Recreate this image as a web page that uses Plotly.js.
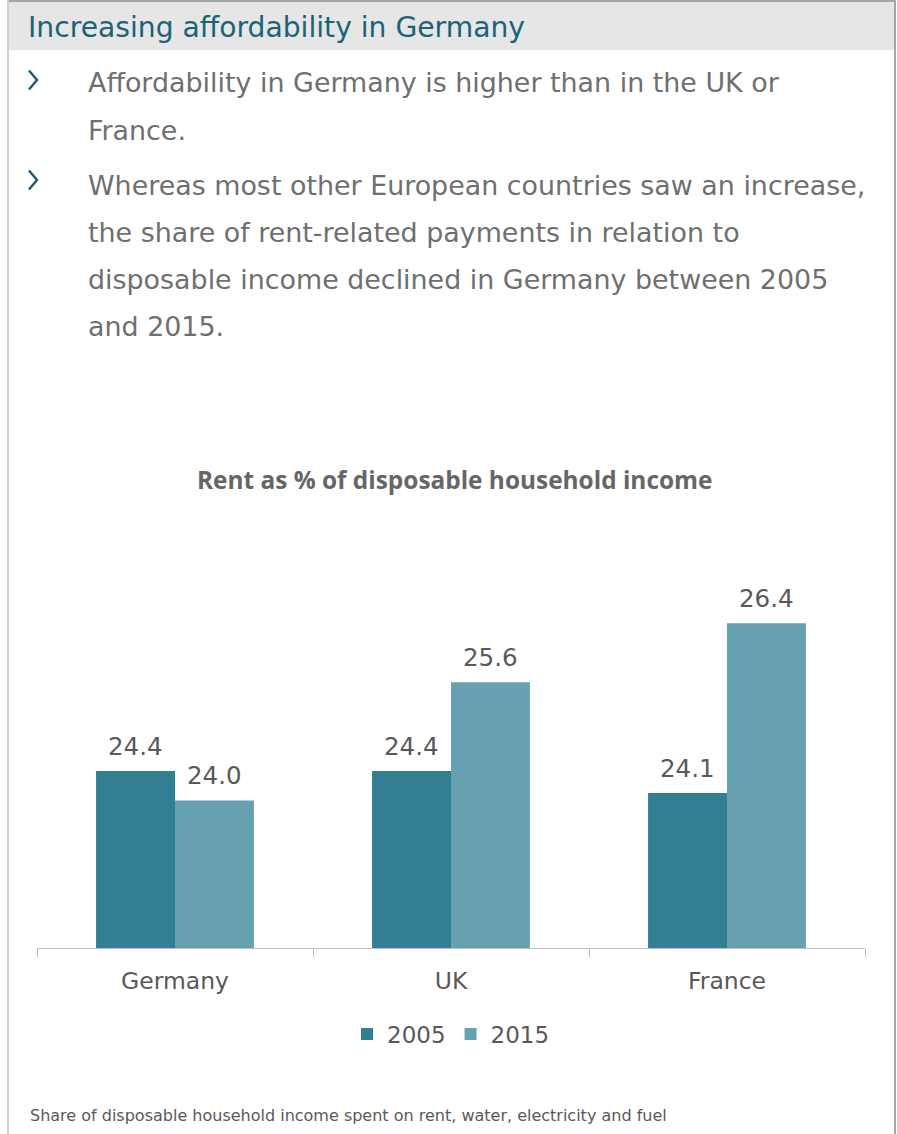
<!DOCTYPE html>
<html>
<head>
<meta charset="utf-8">
<script src="https://cdn.plot.ly/plotly-3.0.1.min.js"></script>
<style>html,body{margin:0;padding:0;background:#fff;}#chart{width:897px;height:1134px;}</style>
</head>
<body>
<div id="chart"></div>
<script>
var categories = ["Germany", "UK", "France"];
var seriesNames = ["2005", "2015"];
var values2005 = [24.4, 24.4, 24.1];
var values2015 = [24.0, 25.6, 26.4];
var headerTitle = "Increasing affordability in Germany";
var bullet1 = ["Affordability in Germany is higher than in the UK or", "France."];
var bullet2 = ["Whereas most other European countries saw an increase,", "the share of rent-related payments in relation to", "disposable income declined in Germany between 2005", "and 2015."];
var chartTitle = "Rent as % of disposable household income";
var footnote = "Share of disposable household income spent on rent, water, electricity and fuel";

var W = 897, H = 1134;
var L = 37, R = 865, T = 579, B = 948;
function px(x){ return (x - L) / (R - L); }
function py(y){ return (B - y) / (B - T); }

var c2005 = "#327f93", c2015 = "#66a0b1";
var grey = "#595959", titleGrey = "#666666", textGrey = "#6f6f6f", teal = "#1a6477", chev = "#1a5a75";

var traces = [
  {type:"bar", name:seriesNames[0], x:categories, y:values2005, marker:{color:c2005}, hoverinfo:"none"},
  {type:"bar", name:seriesNames[1], x:categories, y:values2015, marker:{color:c2015}, hoverinfo:"none"}
];

var ann = [];
function txt(x, y, t, size, color, opts){
  var a = {xref:"paper", yref:"paper", x:px(x), y:py(y), text:t, showarrow:false,
    xanchor:"left", yanchor:"middle", font:{family:"DejaVu Sans", size:size, color:color}};
  if (opts) for (var k in opts) a[k] = opts[k];
  ann.push(a);
}
txt(26, 27, headerTitle, 28.2, teal);
var lh = 47.3;
bullet1.forEach(function(s, i){ txt(86, 83 + i*lh, s, 26.9, textGrey); });
bullet2.forEach(function(s, i){ txt(86, 185 + i*lh, s, 26.9, textGrey); });
txt(454, 479, "<b>" + chartTitle + "</b>", 24.4, titleGrey, {xanchor:"center", font:{family:"Open Sans", size:24.4, color:titleGrey}});
txt(28, 1115, footnote, 16, grey);

var allSeries = [values2005, values2015];
allSeries.forEach(function(vals, k){
  vals.forEach(function(v, j){
    ann.push({xref:"x", yref:"y", x:categories[j], y:v, text:v.toFixed(1), showarrow:false,
      xanchor:"center", yanchor:"bottom", xshift:(k === 0 ? -39.5 : 39.5), yshift:8,
      font:{family:"DejaVu Sans", size:24.5, color:grey}});
  });
});

function chevronPath(cy){
  return "M" + px(29) + "," + py(cy - 9.5) + " L" + px(37) + "," + py(cy) + " L" + px(29) + "," + py(cy + 9.5);
}

var shapes = [
  {type:"rect", xref:"paper", yref:"paper", x0:px(8), x1:px(895), y0:py(2), y1:py(50), fillcolor:"#e6e6e6", line:{width:0}, layer:"below"},
  {type:"line", xref:"paper", yref:"paper", x0:px(8), x1:px(896), y0:py(1), y1:py(1), line:{color:"#a6a6a6", width:2}},
  {type:"line", xref:"paper", yref:"paper", x0:px(8), x1:px(8), y0:py(0), y1:py(1134), line:{color:"#cfcfcf", width:2}},
  {type:"line", xref:"paper", yref:"paper", x0:px(895), x1:px(895), y0:py(0), y1:py(1134), line:{color:"#a6a6a6", width:2}},
  {type:"path", xref:"paper", yref:"paper", path:chevronPath(80), line:{color:chev, width:2.4}},
  {type:"path", xref:"paper", yref:"paper", path:chevronPath(180), line:{color:chev, width:2.4}}
];

var layout = {
  width:W, height:H,
  margin:{l:L, r:W-R, t:T, b:H-B, pad:0},
  paper_bgcolor:"#ffffff", plot_bgcolor:"#ffffff",
  barmode:"group", bargap:0.428, bargroupgap:0,
  showlegend:true,
  legend:{orientation:"h", x:0.5, xanchor:"center", y:py(1034), yanchor:"middle",
    font:{family:"DejaVu Sans", size:23, color:grey}, itemwidth:30, tracegroupgap:0},
  xaxis:{type:"category", tickson:"boundaries", ticks:"outside", ticklen:8, tickcolor:"#bfbfbf", tickwidth:1,
    showline:true, linecolor:"#bfbfbf", linewidth:1, showgrid:false, zeroline:false,
    tickfont:{family:"DejaVu Sans", size:23.5, color:grey}, ticklabelstandoff:12, fixedrange:true},
  yaxis:{range:[22, 27], visible:false, showgrid:false, zeroline:false, fixedrange:true},
  annotations:ann, shapes:shapes
};

Plotly.newPlot("chart", traces, layout, {displayModeBar:false, staticPlot:true});
</script>
</body>
</html>
